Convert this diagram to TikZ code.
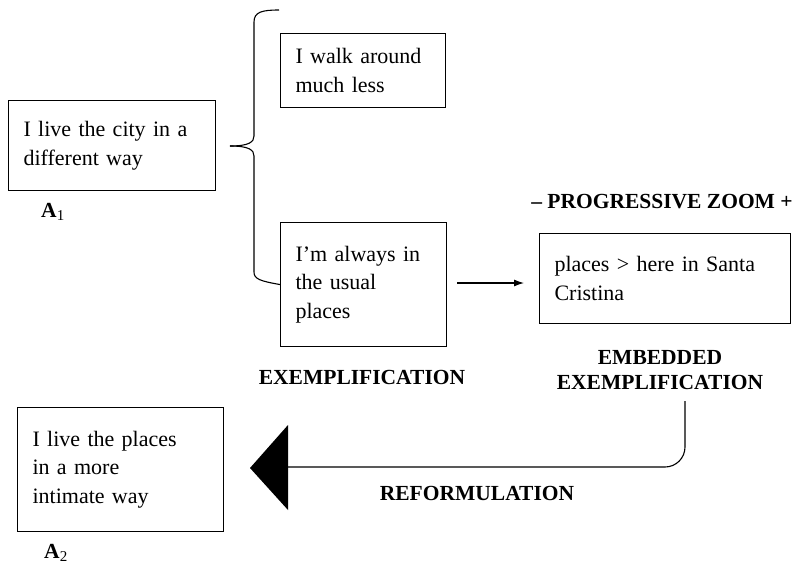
\documentclass[tikz,border=0pt]{standalone}
\usepackage{fontspec}
\setmainfont{Liberation Serif}
\usetikzlibrary{arrows.meta}
\begin{document}
\begin{tikzpicture}[x=1pt,y=-1pt,
  box/.style={draw, line width=1.1pt, anchor=north west, align=left, inner xsep=15pt, inner ysep=0pt,
     font=\fontsize{22}{28.5}\selectfont},
  lab/.style={font=\fontsize{21.5}{25}\selectfont\bfseries, align=center, inner sep=0pt},
  line/.style={line width=1.1pt}]
\useasboundingbox (0,0) rectangle (801,565);
\node[box, text width=177pt, minimum height=90pt] (a1) at (8,100) {I live the city in a\\different way};
\node[box, text width=135pt, minimum height=74pt] (walk) at (280,33) {I walk around\\much less};
\node[box, text width=136pt, minimum height=124pt] (usual) at (280,222) {I'm always in\\the usual\\places};
\node[box, text width=221pt, minimum height=90pt] (places) at (539,233) {places > here in Santa\\Cristina};
\node[box, text width=176pt, minimum height=124pt] (a2) at (17,407) {I live the places\\in a more\\intimate way};

\node[lab] (la1) at (53,212) {A\textsubscript{\mdseries 1}};
\node[lab] (la2) at (56,553) {A\textsubscript{\mdseries 2}};
\node[lab] (zoom) at (662,202) {– PROGRESSIVE ZOOM +};
\node[lab] (emb) at (660,370) {EMBEDDED\\EXEMPLIFICATION};
\node[lab] (ex) at (362,377) {EXEMPLIFICATION};
\node[lab] (ref) at (477,493) {REFORMULATION};

% brace
\coordinate (cusp) at (230,146);
\draw[line] (279,10) .. controls (262,10) and (254,12) .. (254,22) -- (254,136)
   .. controls (254,142) and (249,146) .. (cusp);
\draw[line] (cusp) .. controls (249,146) and (254,150) .. (254,156) -- (254,272)
   .. controls (254,279) and (260,281) .. (usual.west);

% small arrow
\coordinate (s1) at (457,283);
\coordinate (s2) at (524,283);
\draw[line, -{Latex[length=10pt,width=7pt]}] (s1) -- (s2);

% big arrow
\coordinate (r0) at (685,401);
\coordinate (tipbase) at (288,467);
\draw[line, rounded corners=20pt] (r0) -- (685,467) -- (tipbase);
\fill (288,425) -- (250,468) -- (288,510) -- cycle;
\end{tikzpicture}
\end{document}
